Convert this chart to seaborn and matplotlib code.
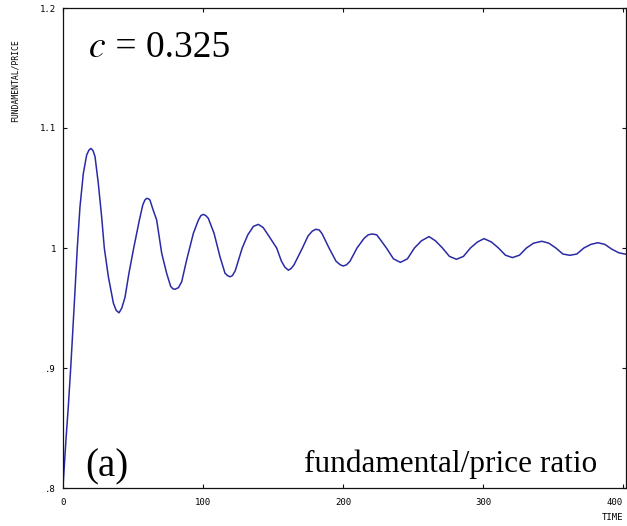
import matplotlib
matplotlib.use("Agg")
import matplotlib.pyplot as plt
import seaborn as sns
import pandas as pd

# ---- data ----
time = [0, 2.1, 3.8, 5.5, 6.9, 8.6, 10.2, 12.1, 14.5, 16.9, 18.5, 20, 21.5, 22.9, 25.2,
        27.6, 29.5, 32.4, 36, 38, 40, 42, 44.3, 47.1, 50.5, 54.5, 57, 58.5, 59.8, 61,
        62.1, 64, 66.9, 70.5, 74, 76.9, 78.5, 80, 82.5, 84.8, 88.3, 93.1, 96.6, 98.5,
        100.2, 102, 103.8, 107.9, 112.1, 115.7, 117.5, 119.3, 121, 123, 128, 132, 136,
        139.5, 143, 147, 152.6, 156, 158.5, 161, 163, 165, 171, 175, 178, 180.5, 183,
        185, 190, 195, 198, 200.2, 202.5, 205, 210, 215, 218, 221, 224, 226, 231,
        236, 241, 246, 251, 256, 261.4, 266, 271, 276, 281, 286, 291, 296, 300.7,
        306, 311, 316, 321, 326, 331, 336, 342, 347, 352, 357, 362, 367, 372, 377,
        382, 387, 392, 397, 402]
ratio = [0.801, 0.840, 0.868, 0.900, 0.929, 0.965, 1.000, 1.034, 1.062, 1.0775, 1.0815,
         1.083, 1.081, 1.076, 1.054, 1.026, 1.000, 0.976, 0.954, 0.948, 0.946, 0.950,
         0.959, 0.979, 1.000, 1.023, 1.036, 1.040, 1.0414, 1.041, 1.040, 1.033,
         1.0233, 0.9956, 0.979, 0.968, 0.966, 0.9656, 0.967, 0.972, 0.990, 1.0122,
         1.023, 1.027, 1.028, 1.027, 1.0247, 1.0122, 0.9928, 0.979, 0.977, 0.976,
         0.977, 0.981, 1.000, 1.011, 1.018, 1.0197, 1.017, 1.010, 1.000, 0.989,
         0.984, 0.9815, 0.983, 0.986, 1.000, 1.010, 1.014, 1.0156, 1.015, 1.012,
         1.000, 0.989, 0.986, 0.985, 0.986, 0.989, 1.000, 1.008, 1.011, 1.0117,
         1.011, 1.008, 1.000, 0.991, 0.988, 0.991, 1.000, 1.006, 1.0095, 1.006,
         1.000, 0.993, 0.9906, 0.993, 1.000, 1.005, 1.0078, 1.005, 1.000, 0.994,
         0.992, 0.994, 1.000, 1.004, 1.0056, 1.004, 1.000, 0.995, 0.9939, 0.995,
         1.000, 1.003, 1.0044, 1.003, 0.999, 0.996, 0.9948]
x_ticks = [0, 100, 200, 300, 400]
x_tick_labels = ["0", "100", "200", "300", "400"]
y_ticks = [0.8, 0.9, 1.0, 1.1, 1.2]
y_tick_labels = [".8", ".9", "1", "1.1", "1.2"]

df = pd.DataFrame({"TIME": time, "ratio": ratio})

sns.set_theme(style="ticks")
plt.rcParams["font.family"] = ["DejaVu Sans"]
plt.rcParams["text.color"] = "black"

W, H = 627, 526
fig = plt.figure(figsize=(W / 100, H / 100), dpi=100)
ax = fig.add_axes([63 / W, (H - 488) / H, (626 - 63) / W, (488 - 8) / H])

sns.lineplot(data=df, x="TIME", y="ratio", ax=ax, color="#2a2aa6", linewidth=1.1,
             sort=False, estimator=None)

ax.set_xlim(0, 402.1)
ax.set_ylim(0.8, 1.2)
ax.set_xticks(x_ticks)
ax.set_yticks(y_ticks)
mono = {"family": "DejaVu Sans Mono", "size": 6.5, "color": "black"}
ax.set_xticklabels(x_tick_labels, fontdict=mono)
ax.set_yticklabels(y_tick_labels, fontdict=mono)
ax.get_xticklabels()[-1].set_horizontalalignment("right")
ax.tick_params(direction="in", length=3, width=0.8, color="#111111",
               top=True, right=True)
ax.tick_params(axis="x", pad=7)
ax.tick_params(axis="y", pad=5)
for s in ax.spines.values():
    s.set_visible(True)
    s.set_linewidth(0.9)
    s.set_color("#111111")
ax.set_xlabel("")
ax.set_ylabel("")

fig.text(15 / W, 1 - 81 / H, "FUNDAMENTAL/PRICE", rotation=90, ha="center",
         va="center", fontsize=5.8, family="DejaVu Sans Mono", color="black")
fig.text(623 / W, 1 - 518 / H, "TIME", ha="right", va="center", fontsize=6.5,
         family="DejaVu Sans Mono", color="black")

serif = "Liberation Serif"
fig.text(88 / W, 1 - 57 / H, r"$c$", ha="left", va="baseline", fontsize=27,
         family=serif, math_fontfamily="stix", color="black")
fig.text(106 / W, 1 - 57 / H, " = 0.325", ha="left", va="baseline", fontsize=27,
         family=serif, color="black")
fig.text(85 / W, 1 - 476 / H, "(a)", ha="left", va="baseline", fontsize=28,
         family=serif, color="black")
fig.text(597 / W, 1 - 472 / H, "fundamental/price ratio", ha="right",
         va="baseline", fontsize=22.5, family=serif, color="black")

fig.savefig("out.png", dpi=100)
